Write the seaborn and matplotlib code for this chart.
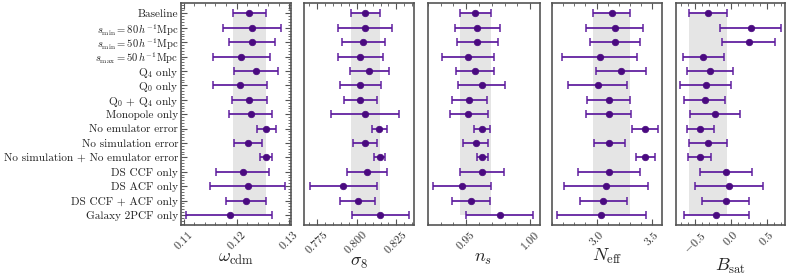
import numpy as np
import pandas as pd
import matplotlib
matplotlib.use("Agg")
import matplotlib.pyplot as plt
import seaborn as sns
from matplotlib.ticker import AutoMinorLocator, MultipleLocator

labels = [
    "Baseline",
    r"$s_{\rm min} = 80\,h^{-1}{\rm Mpc}$",
    r"$s_{\rm min} = 50\,h^{-1}{\rm Mpc}$",
    r"$s_{\rm max} = 50\,h^{-1}{\rm Mpc}$",
    r"Q$_4$ only",
    r"Q$_0$ only",
    r"Q$_0$ + Q$_4$ only",
    "Monopole only",
    "No emulator error",
    "No simulation error",
    "No simulation + No emulator error",
    "DS CCF only",
    "DS ACF only",
    "DS CCF + ACF only",
    "Galaxy 2PCF only",
]

wcdm_lo  = [0.1193, 0.1175, 0.1185, 0.1155, 0.1195, 0.1155, 0.1191, 0.1186, 0.1238, 0.1195, 0.1244, 0.1162, 0.1150, 0.1181, 0.1105]
wcdm_mid = [0.1223, 0.1230, 0.1229, 0.1209, 0.1237, 0.1206, 0.1224, 0.1227, 0.1255, 0.1221, 0.1255, 0.1212, 0.1221, 0.1218, 0.1187]
wcdm_hi  = [0.1255, 0.1285, 0.1273, 0.1263, 0.1278, 0.1258, 0.1258, 0.1268, 0.1274, 0.1249, 0.1268, 0.1261, 0.1292, 0.1255, 0.1268]

s8_lo  = [0.7962, 0.7881, 0.7908, 0.7885, 0.7958, 0.7896, 0.7919, 0.7841, 0.8098, 0.7979, 0.8112, 0.7941, 0.7706, 0.7896, 0.7969]
s8_mid = [0.8054, 0.8052, 0.8041, 0.8023, 0.8079, 0.8023, 0.8023, 0.8054, 0.8141, 0.8052, 0.8144, 0.8066, 0.7916, 0.8006, 0.8148]
s8_hi  = [0.8148, 0.8223, 0.8175, 0.8166, 0.8202, 0.8156, 0.8131, 0.8264, 0.8188, 0.8125, 0.8175, 0.8191, 0.8131, 0.8116, 0.8329]

ns_lo  = [0.9451, 0.9409, 0.9432, 0.9313, 0.9422, 0.9440, 0.9393, 0.9370, 0.9563, 0.9477, 0.9581, 0.9455, 0.9240, 0.9393, 0.9502]
ns_mid = [0.9570, 0.9588, 0.9588, 0.9513, 0.9570, 0.9620, 0.9526, 0.9518, 0.9622, 0.9573, 0.9625, 0.9622, 0.9469, 0.9539, 0.9766]
ns_hi  = [0.9693, 0.9766, 0.9748, 0.9716, 0.9719, 0.9805, 0.9659, 0.9672, 0.9688, 0.9669, 0.9669, 0.9792, 0.9693, 0.9688, 1.0026]

neff_lo  = [2.967, 2.908, 2.940, 2.692, 2.994, 2.746, 2.916, 2.908, 3.320, 2.976, 3.353, 2.832, 2.707, 2.850, 2.647]
neff_mid = [3.135, 3.162, 3.162, 3.027, 3.221, 3.009, 3.108, 3.108, 3.434, 3.114, 3.437, 3.108, 3.081, 3.060, 3.042]
neff_hi  = [3.305, 3.419, 3.389, 3.362, 3.446, 3.275, 3.299, 3.308, 3.548, 3.254, 3.521, 3.389, 3.458, 3.272, 3.440]

bsat_lo  = [-0.579, -0.153, -0.120, -0.671, -0.611, -0.704, -0.648, -0.565, -0.616, -0.579, -0.593, -0.431, -0.495, -0.407, -0.657]
bsat_mid = [-0.319, 0.273, 0.245, -0.384, -0.292, -0.347, -0.366, -0.218, -0.431, -0.319, -0.435, -0.069, -0.023, -0.074, -0.204]
bsat_hi  = [-0.060, 0.690, 0.611, -0.097, 0.032, 0.005, -0.083, 0.125, -0.236, -0.060, -0.273, 0.287, 0.449, 0.255, 0.255]

params = [
    (r"$\omega_{\rm cdm}$", wcdm_lo, wcdm_mid, wcdm_hi, (0.1095, 0.1303), 0.01, "{:.2f}"),
    (r"$\sigma_8$", s8_lo, s8_mid, s8_hi, (0.767, 0.836), 0.025, "{:.3f}"),
    (r"$n_s$", ns_lo, ns_mid, ns_hi, (0.9198, 1.0073), 0.05, "{:.2f}"),
    (r"$N_{\rm eff}$", neff_lo, neff_mid, neff_hi, (2.600, 3.588), 0.5, "{:.1f}"),
    (r"$B_{\rm sat}$", bsat_lo, bsat_mid, bsat_hi, (-0.764, 0.75), 0.5, "{:.1f}"),
]

sns.set_theme(style="ticks")
plt.rcParams["font.family"] = ["cmr10", "DejaVu Serif"]
plt.rcParams["mathtext.fontset"] = "cm"
plt.rcParams["axes.formatter.use_mathtext"] = True
plt.rcParams["axes.unicode_minus"] = True

fig = plt.figure(figsize=(7.89, 2.76), dpi=100)
W, H = 789.0, 276.0
lefts = [181, 304, 427.5, 552, 676]
widths = [110, 110, 112, 110, 109]
top, bottom = 3.3, 225.0

marker_color = "#4a0a80"
bar_color = "#5e1c9e"
spine_color = "#555555"

ypos = np.arange(len(labels))

for i, (xlabel, lo, mid, hi, xlim, major, fmt) in enumerate(params):
    ax = fig.add_axes([lefts[i] / W, 1 - bottom / H, widths[i] / W, (bottom - top) / H])
    lo = np.array(lo); mid = np.array(mid); hi = np.array(hi)
    df = pd.DataFrame({"label": labels, "y": ypos, "mid": mid, "lo": lo, "hi": hi})
    # baseline band
    ax.fill_betweenx([0, len(labels) - 1], lo[0], hi[0], color="#e5e5e5", lw=0, zorder=0)
    ax.errorbar(df["mid"], df["y"], xerr=[df["mid"] - df["lo"], df["hi"] - df["mid"]],
                fmt="none", ecolor=bar_color, elinewidth=1.4, capsize=3, capthick=1.2,
                alpha=0.9, zorder=2)
    sns.scatterplot(data=df, x="mid", y="y", ax=ax, color=marker_color, s=22,
                    edgecolor=marker_color, linewidth=0.5, zorder=3, legend=False)
    ax.set_xlim(*xlim)
    ax.set_ylim(len(labels) - 1 + 0.7, -0.7)
    ax.xaxis.set_major_locator(MultipleLocator(major))
    ax.xaxis.set_minor_locator(AutoMinorLocator(5))
    ax.xaxis.set_major_formatter(matplotlib.ticker.FuncFormatter(
        lambda v, p, f=fmt: ("$-$" if v < -1e-9 else "") + f.format(abs(v))))
    ax.tick_params(axis="x", which="both", direction="in", top=True, bottom=True,
                   colors=spine_color, labelcolor="#333333", labelsize=8.5, labelrotation=45)
    ax.tick_params(axis="x", which="major", length=4, width=0.8)
    ax.tick_params(axis="x", which="minor", length=2, width=0.6)
    for lab in ax.get_xticklabels():
        lab.set_ha("center")
    ax.set_xlabel(xlabel, fontsize=13, color="#222222", labelpad=0)
    ax.set_ylabel("")
    if i == 0:
        ax.set_yticks(ypos)
        ax.set_yticklabels(labels, fontsize=8.1, color="#222222")
        for lab in ax.get_yticklabels():
            if lab.get_text().startswith("$"):
                lab.set_fontsize(7.6)
        ax.yaxis.set_minor_locator(MultipleLocator(0.2))
        ax.tick_params(axis="y", which="both", direction="in", left=True, right=True,
                       colors=spine_color, labelcolor="#222222", pad=2)
        ax.tick_params(axis="y", which="major", length=4, width=0.8)
        ax.tick_params(axis="y", which="minor", length=2, width=0.6)
    else:
        ax.set_yticks([])
    for sp in ax.spines.values():
        sp.set_visible(True)
        sp.set_color(spine_color)
        sp.set_linewidth(1.2)

fig.savefig("out.png", dpi=100)
